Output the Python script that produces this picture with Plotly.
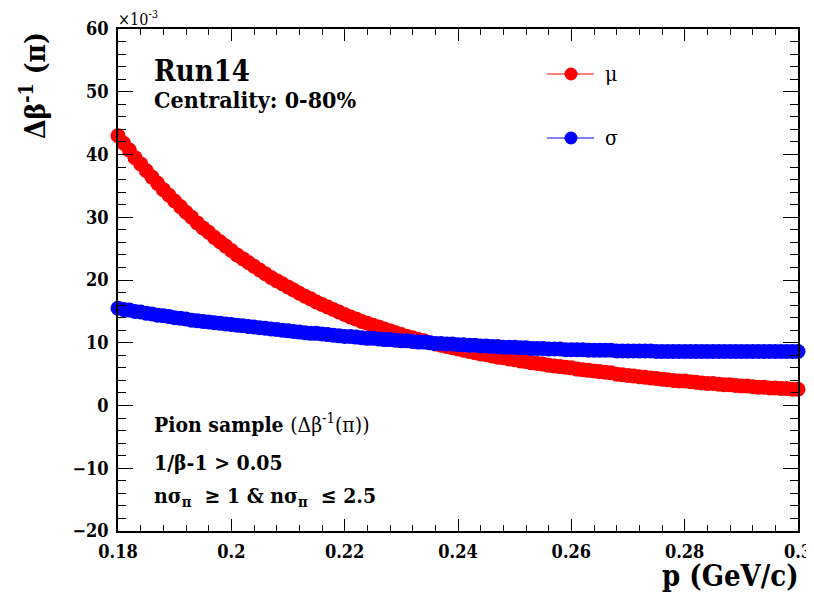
import plotly.graph_objects as go

# momentum bins (GeV/c)
p = [0.180, 0.181, 0.182, 0.183, 0.184, 0.185, 0.186, 0.187, 0.188, 0.189,
     0.190, 0.191, 0.192, 0.193, 0.194, 0.195, 0.196, 0.197, 0.198, 0.199,
     0.200, 0.201, 0.202, 0.203, 0.204, 0.205, 0.206, 0.207, 0.208, 0.209,
     0.210, 0.211, 0.212, 0.213, 0.214, 0.215, 0.216, 0.217, 0.218, 0.219,
     0.220, 0.221, 0.222, 0.223, 0.224, 0.225, 0.226, 0.227, 0.228, 0.229,
     0.230, 0.231, 0.232, 0.233, 0.234, 0.235, 0.236, 0.237, 0.238, 0.239,
     0.240, 0.241, 0.242, 0.243, 0.244, 0.245, 0.246, 0.247, 0.248, 0.249,
     0.250, 0.251, 0.252, 0.253, 0.254, 0.255, 0.256, 0.257, 0.258, 0.259,
     0.260, 0.261, 0.262, 0.263, 0.264, 0.265, 0.266, 0.267, 0.268, 0.269,
     0.270, 0.271, 0.272, 0.273, 0.274, 0.275, 0.276, 0.277, 0.278, 0.279,
     0.280, 0.281, 0.282, 0.283, 0.284, 0.285, 0.286, 0.287, 0.288, 0.289,
     0.290, 0.291, 0.292, 0.293, 0.294, 0.295, 0.296, 0.297, 0.298, 0.299,
     0.300]

# mu (x10^-3)
mu = [43.0, 41.8, 40.7, 39.5, 38.5, 37.4, 36.4, 35.4, 34.4, 33.5,
      32.6, 31.7, 30.8, 30.0, 29.1, 28.3, 27.6, 26.8, 26.1, 25.4,
      24.7, 24.0, 23.4, 22.8, 22.2, 21.6, 21.0, 20.4, 19.9, 19.4,
      18.9, 18.4, 17.9, 17.4, 17.0, 16.5, 16.1, 15.7, 15.3, 14.9,
      14.5, 14.1, 13.8, 13.4, 13.1, 12.8, 12.5, 12.2, 11.9, 11.6,
      11.3, 11.0, 10.8, 10.5, 10.3, 10.0, 9.8, 9.6, 9.4, 9.2,
      9.0, 8.8, 8.6, 8.4, 8.2, 8.1, 7.9, 7.7, 7.6, 7.4,
      7.3, 7.1, 7.0, 6.8, 6.7, 6.6, 6.4, 6.3, 6.2, 6.1,
      6.0, 5.8, 5.7, 5.6, 5.5, 5.4, 5.3, 5.2, 5.0, 4.9,
      4.8, 4.7, 4.6, 4.5, 4.4, 4.3, 4.2, 4.1, 4.0, 3.9,
      3.9, 3.8, 3.7, 3.6, 3.5, 3.5, 3.4, 3.3, 3.3, 3.2,
      3.1, 3.1, 3.0, 2.9, 2.9, 2.8, 2.8, 2.7, 2.7, 2.6,
      2.6]

# sigma (x10^-3)
sigma = [15.5, 15.3, 15.2, 15.0, 14.9, 14.7, 14.6, 14.4, 14.3, 14.2,
         14.0, 13.9, 13.8, 13.6, 13.5, 13.4, 13.3, 13.2, 13.1, 13.0,
         12.9, 12.8, 12.7, 12.6, 12.5, 12.4, 12.3, 12.2, 12.1, 12.0,
         11.9, 11.8, 11.7, 11.6, 11.5, 11.5, 11.4, 11.3, 11.2, 11.1,
         11.0, 11.0, 10.9, 10.8, 10.7, 10.7, 10.6, 10.5, 10.5, 10.4,
         10.3, 10.3, 10.2, 10.1, 10.1, 10.0, 9.9, 9.9, 9.8, 9.8,
         9.7, 9.7, 9.6, 9.6, 9.5, 9.5, 9.4, 9.4, 9.3, 9.3,
         9.3, 9.2, 9.2, 9.1, 9.1, 9.1, 9.0, 9.0, 9.0, 8.9,
         8.9, 8.9, 8.9, 8.8, 8.8, 8.8, 8.8, 8.8, 8.7, 8.7,
         8.7, 8.7, 8.7, 8.7, 8.7, 8.6, 8.6, 8.6, 8.6, 8.6,
         8.6, 8.6, 8.6, 8.6, 8.6, 8.6, 8.6, 8.6, 8.6, 8.6,
         8.6, 8.6, 8.6, 8.6, 8.6, 8.6, 8.6, 8.6, 8.6, 8.6,
         8.6]

x_ticks = [0.18, 0.20, 0.22, 0.24, 0.26, 0.28, 0.30]
x_tick_labels = ["0.18", "0.2", "0.22", "0.24", "0.26", "0.28", "0.3"]
y_ticks = [-20, -10, 0, 10, 20, 30, 40, 50, 60]
y_tick_labels = ["\u221220", "\u221210", "0", "10", "20", "30", "40", "50", "60"]

FONT = "DejaVu Serif Condensed, DejaVu Serif, serif"
OFF = 8  # page body margin
W, H = 814 - OFF, 597 - OFF
L, R, T, B = 118 - OFF, 16, 29 - OFF, 66
PW, PH = W - L - R, H - T - B


def px(xs):
    # screen x pixel -> paper
    return (xs - OFF - L) / PW


def py(ys):
    # screen y pixel -> paper
    return (H - B - (ys - OFF)) / PH


fig = go.Figure()
fig.add_trace(go.Scatter(x=p, y=mu, mode="markers", name="\u03bc",
                         marker=dict(color="#ff0000", size=15, line=dict(width=0)),
                         showlegend=False, cliponaxis=False))
fig.add_trace(go.Scatter(x=p, y=sigma, mode="markers", name="\u03c3",
                         marker=dict(color="#0000ff", size=15, line=dict(width=0)),
                         showlegend=False, cliponaxis=False))

axis_common = dict(showline=True, linecolor="black", linewidth=1.5, mirror="allticks",
                   ticks="inside", tickcolor="black", tickwidth=1.2,
                   showgrid=False, zeroline=False, automargin=False,
                   ticklabeloverflow="allow",
                   tickfont=dict(family=FONT, size=18, color="black", weight="bold"))

fig.update_xaxes(range=[0.18, 0.30], tickvals=x_ticks, ticktext=x_tick_labels,
                 ticklen=12, ticklabelstandoff=4,
                 minor=dict(dtick=0.004, ticklen=6, ticks="inside", tickcolor="black", tickwidth=1),
                 **axis_common)
fig.update_yaxes(range=[-20, 60], tickvals=y_ticks, ticktext=y_tick_labels,
                 ticklen=15, ticklabelstandoff=4,
                 minor=dict(dtick=2, ticklen=8, ticks="inside", tickcolor="black", tickwidth=1),
                 **axis_common)

ann = []


def text(x, y, s, size, xanchor="left", yanchor="middle", angle=0, weight="bold"):
    ann.append(dict(x=x, y=y, xref="paper", yref="paper", text=s, showarrow=False,
                    xanchor=xanchor, yanchor=yanchor, textangle=angle,
                    font=dict(family=FONT, size=size, color="black", weight=weight)))


text(px(152), py(71), "Run14", 29)
text(px(152), py(99), "Centrality: 0-80%", 23)
text(px(152), py(423), "Pion sample <span style='font-weight:normal'>(\u0394\u03b2<sup>-1</sup>(\u03c0))</span>", 21)
text(px(152), py(462), "1/\u03b2-1 > 0.05", 21)
text(px(152), py(496), "n\u03c3<sub>\u03c0</sub>  \u2265 1 & n\u03c3<sub>\u03c0</sub>  \u2264 2.5", 21)
text(px(116), py(18), "\u00d710<sup>-3</sup>", 16, weight="normal")
text(px(801), py(576), "p (GeV/c)", 29, xanchor="right")
text(px(33), py(86), "\u0394\u03b2<sup>-1</sup> (\u03c0)", 28, xanchor="center", angle=-90)

# legend
text(px(603), py(74), "\u03bc", 21, weight="normal")
text(px(603), py(138), "\u03c3", 21, weight="normal")

shapes = []
for yc, col in [(74, "#ff0000"), (138, "#0000ff")]:
    shapes.append(dict(type="line", xref="paper", yref="paper",
                       x0=px(547), x1=px(594), y0=py(yc), y1=py(yc),
                       line=dict(color=col, width=1.2)))
    shapes.append(dict(type="circle", xref="paper", yref="paper",
                       xsizemode="pixel", ysizemode="pixel",
                       xanchor=px(571), yanchor=py(yc),
                       x0=-6.5, x1=6.5, y0=-6.5, y1=6.5,
                       fillcolor=col, line=dict(color=col, width=0)))

fig.update_layout(width=W, height=H, margin=dict(l=L, r=R, t=T, b=B),
                  paper_bgcolor="white", plot_bgcolor="white",
                  annotations=ann, shapes=shapes, showlegend=False,
                  font=dict(family=FONT, color="black"))

fig.write_html("out.html")
